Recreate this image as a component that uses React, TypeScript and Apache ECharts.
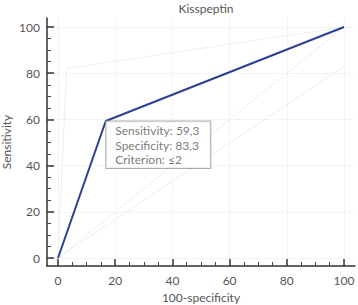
import React, { useEffect, useRef } from "react";
import * as echarts from "echarts";

const title = "Kisspeptin";
const xName = "100-specificity";
const yName = "Sensitivity";
const rocX = [0, 16.7, 100];
const rocY = [0, 59.3, 100];
const upperX = [0, 3, 100];
const upperY = [0, 82, 100];
const lowerX = [0, 100];
const lowerY = [0, 83];
const diagX = [0, 100];
const diagY = [0, 100];
const majorTicks = [0, 20, 40, 60, 80, 100];
const minorTicks = [5, 10, 15, 25, 30, 35, 45, 50, 55, 65, 70, 75, 85, 90, 95];
const criterion = { x: 16.7, y: 59.3, sens: "59,3", spec: "83,3", crit: "≤2" };

const FONT = "Lato, 'Open Sans', sans-serif";
const TXT = "#555";
const X_MIN = -3.85;
const X_MAX = 103.85;
const Y_MIN = -3.46;
const Y_MAX = 103.9;

function pairs(xs: number[], ys: number[]) {
  return xs.map((x, i) => [x, ys[i]]);
}

export default function App() {
  const ref = useRef<HTMLDivElement>(null);
  useEffect(() => {
    if (!ref.current) return;
    const chart = echarts.init(ref.current, undefined, { renderer: "svg" });
    const faint = (data: number[][]) => ({
      type: "line",
      data,
      symbol: "none",
      silent: true,
      lineStyle: { color: "#efefef", width: 1 },
      z: 1,
    });
    const gridBox = { left: 47, right: 3, top: 18, bottom: 39, outerBoundsMode: "none", containLabel: false };
    const nameStyle = { fontSize: 12, color: TXT, fontFamily: FONT };
    chart.setOption({
      animation: false,
      textStyle: { fontFamily: FONT },
      title: {
        text: title,
        left: 201,
        top: -3,
        textAlign: "center",
        textStyle: { fontSize: 12, fontWeight: "normal", color: TXT, fontFamily: FONT },
      },
      grid: [gridBox, gridBox],
      xAxis: [
        {
          type: "value",
          gridIndex: 0,
          min: X_MIN,
          max: X_MAX,
          name: xName,
          nameLocation: "middle",
          nameGap: 25,
          nameMoveOverlap: false,
          nameTextStyle: nameStyle,
          axisLine: { show: true, onZero: false, lineStyle: { color: "#333", width: 1.5 } },
          axisTick: { show: true, inside: true, length: 7, customValues: majorTicks, lineStyle: { color: "#333", width: 1.5 } },
          axisLabel: { fontSize: 12, color: TXT, margin: 8, fontFamily: FONT, customValues: majorTicks },
          splitLine: { show: true, lineStyle: { color: "#f4f4f4", width: 1 } },
        },
        {
          type: "value",
          gridIndex: 1,
          min: X_MIN,
          max: X_MAX,
          axisLine: { show: false, onZero: false },
          axisTick: { show: true, inside: true, length: 4, customValues: minorTicks, lineStyle: { color: "#444", width: 1 } },
          axisLabel: { show: false },
          splitLine: { show: false },
        },
      ],
      yAxis: [
        {
          type: "value",
          gridIndex: 0,
          min: Y_MIN,
          max: Y_MAX,
          name: yName,
          nameLocation: "middle",
          nameGap: 35,
          nameMoveOverlap: false,
          nameTextStyle: nameStyle,
          axisLine: { show: true, onZero: false, lineStyle: { color: "#333", width: 1.5 } },
          axisTick: { show: true, inside: true, length: 7, customValues: majorTicks, lineStyle: { color: "#333", width: 1.5 } },
          axisLabel: { fontSize: 12, color: TXT, margin: 7, fontFamily: FONT, customValues: majorTicks },
          splitLine: { show: true, lineStyle: { color: "#f4f4f4", width: 1 } },
        },
        {
          type: "value",
          gridIndex: 1,
          min: Y_MIN,
          max: Y_MAX,
          axisLine: { show: false, onZero: false },
          axisTick: { show: true, inside: true, length: 4, customValues: minorTicks, lineStyle: { color: "#444", width: 1 } },
          axisLabel: { show: false },
          splitLine: { show: false },
        },
      ],
      series: [
        faint(pairs(diagX, diagY)),
        faint(pairs(upperX, upperY)),
        faint(pairs(lowerX, lowerY)),
        {
          type: "line",
          data: pairs(rocX, rocY),
          symbol: "none",
          lineStyle: { color: "#2e3f92", width: 2 },
          z: 3,
        },
        {
          type: "scatter",
          data: [[criterion.x, criterion.y]],
          symbolSize: 1,
          itemStyle: { color: "rgba(0,0,0,0)" },
          z: 4,
          label: {
            show: true,
            position: [1, 1],
            formatter: `Sensitivity: ${criterion.sens}\nSpecificity: ${criterion.spec}\nCriterion: ${criterion.crit}`,
            fontSize: 12,
            lineHeight: 14.5,
            width: 88,
            color: TXT,
            fontFamily: FONT,
            backgroundColor: "#fff",
            borderColor: "#999",
            borderWidth: 1,
            padding: [2, 7, 1, 9],
            align: "left",
            verticalAlign: "top",
          },
        },
      ],
    });
    return () => chart.dispose();
  }, []);
  return (
    <div
      ref={ref}
      style={{ position: "fixed", left: 0, top: 0, width: 358, height: 305, background: "#fff" }}
    />
  );
}
